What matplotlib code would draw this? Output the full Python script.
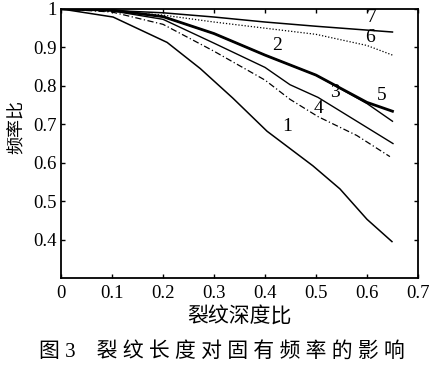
import matplotlib
matplotlib.use("Agg")
import matplotlib.pyplot as plt

plt.rcParams["font.family"] = ["Liberation Serif", "Noto Sans CJK SC"]

# curve data (crack depth ratio -> frequency ratio)
x1 = [0, 0.102, 0.208, 0.273, 0.337, 0.404, 0.449, 0.494, 0.547, 0.6, 0.649]
y1 = [1.0, 0.979, 0.913, 0.845, 0.768, 0.682, 0.637, 0.592, 0.532, 0.453, 0.395]

x2 = [0, 0.1, 0.2, 0.3, 0.4, 0.5, 0.6, 0.65]
y2 = [1.0, 0.997, 0.98, 0.936, 0.88, 0.828, 0.757, 0.734]

x5 = [0, 0.1, 0.2, 0.3, 0.4, 0.5, 0.6, 0.65]
y5 = [1.0, 0.997, 0.98, 0.936, 0.88, 0.828, 0.754, 0.708]

x3 = [0, 0.1, 0.2, 0.3, 0.4, 0.449, 0.504, 0.58, 0.651]
y3 = [1.0, 0.995, 0.973, 0.911, 0.848, 0.803, 0.77, 0.708, 0.65]

x4 = [0, 0.1, 0.2, 0.3, 0.4, 0.449, 0.504, 0.58, 0.645]
y4 = [1.0, 0.992, 0.96, 0.89, 0.815, 0.765, 0.72, 0.671, 0.616]

x6 = [0, 0.1, 0.2, 0.3, 0.4, 0.5, 0.6, 0.65]
y6 = [1.0, 0.994, 0.984, 0.966, 0.95, 0.934, 0.905, 0.88]

x7 = [0, 0.1, 0.2, 0.3, 0.4, 0.5, 0.6, 0.65]
y7 = [1.0, 0.996, 0.99, 0.979, 0.966, 0.955, 0.945, 0.94]

labels = ["1", "2", "3", "4", "5", "6", "7"]
label_x = [0.443, 0.424, 0.537, 0.504, 0.629, 0.606, 0.61]
label_y = [0.695, 0.905, 0.782, 0.742, 0.776, 0.926, 0.979]

xticks = [0, 0.1, 0.2, 0.3, 0.4, 0.5, 0.6, 0.7]
xtick_labels = ["0", "0.1", "0.2", "0.3", "0.4", "0.5", "0.6", "0.7"]
yticks = [0.4, 0.5, 0.6, 0.7, 0.8, 0.9, 1.0]
ytick_labels = ["0.4", "0.5", "0.6", "0.7", "0.8", "0.9", "1"]

fig = plt.figure(figsize=(4.3, 3.89), dpi=100)
ax = fig.add_axes([0.142, 0.285, 0.830, 0.692])

ax.plot(x1, y1, color="black", lw=1.1)
ax.plot(x2, y2, color="black", lw=2.0)
ax.plot(x5, y5, color="black", lw=1.0)
ax.plot(x3, y3, color="black", lw=1.0)
ax.plot(x4, y4, color="black", lw=0.9, linestyle=(0, (5, 2, 1, 2)))
ax.plot(x6, y6, color="black", lw=0.9, linestyle=(0, (1, 1.5)))
ax.plot(x7, y7, color="black", lw=1.1)

for lab, lx, ly in zip(labels, label_x, label_y):
    ax.text(lx, ly, lab, fontsize=14, ha="center", va="center")

ax.set_xlim(0, 0.7)
ax.set_ylim(0.3, 1.0)
ax.set_xticks(xticks)
ax.set_xticklabels(xtick_labels)
ax.set_yticks(yticks)
ax.set_yticklabels(ytick_labels)
ax.tick_params(direction="in", top=True, right=True, labelsize=13.5, length=3, width=1)
ax.tick_params(axis="x", pad=5)
ax.tick_params(axis="y", pad=3)
for s in ax.spines.values():
    s.set_linewidth(1.3)

ax.set_xlabel("裂纹深度比", fontsize=15, labelpad=3)
ax.set_ylabel("频率比", fontsize=13)
ax.yaxis.set_label_coords(-0.098, 0.56)

fig.text(0.515, 0.095, "图 3    裂 纹 长 度 对 固 有 频 率 的 影 响", fontsize=15, ha="center", va="center")

fig.savefig("out.png", dpi=100)
